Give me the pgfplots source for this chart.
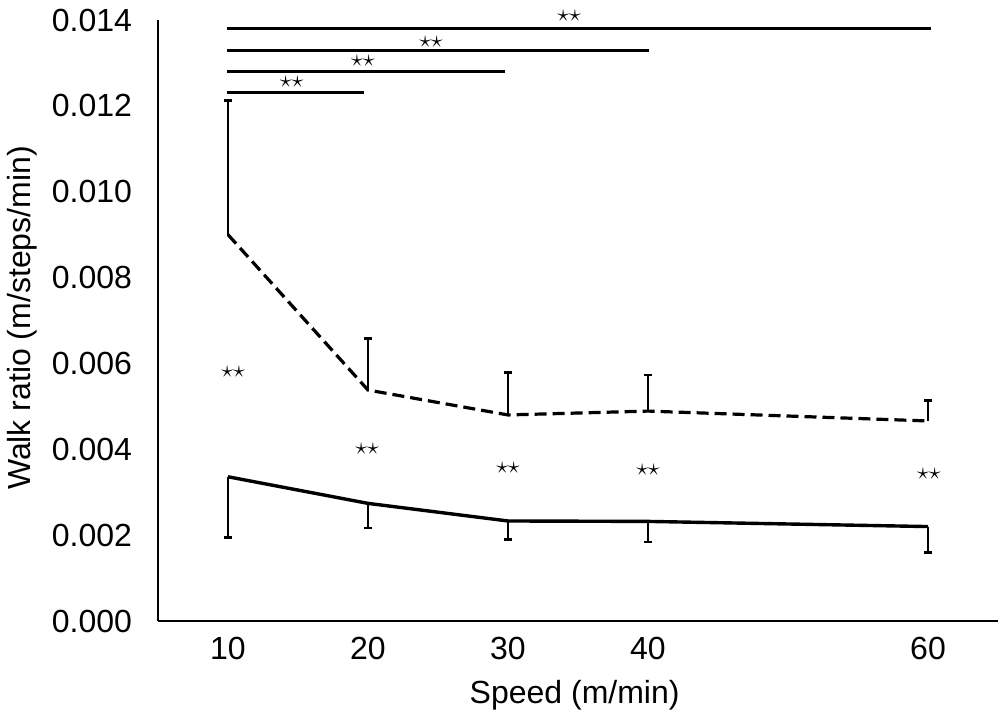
\documentclass[border=0pt]{standalone}
\usepackage{pgfplots}
\pgfplotsset{compat=1.18}
\usepackage{fontspec}
\setmainfont{Liberation Sans}
\begin{document}
\begin{tikzpicture}
\begin{axis}[
  at={(0,0)}, anchor=south west,
  scale only axis, width=420pt, height=300.5pt,
  xmin=5, xmax=65, ymin=0, ymax=0.014,
  axis lines*=left,
  axis line style={line width=1.3pt},
  xtick={10,20,30,40,60},
  ytick={0,0.002,0.004,0.006,0.008,0.010,0.012,0.014},
  yticklabels={0.000,0.002,0.004,0.006,0.008,0.010,0.012,0.014},
  scaled y ticks=false,
  major tick length=0pt,
  /pgf/number format/assume math mode=true,
  tick label style={font=\fontsize{16}{19}\selectfont},
  xticklabel style={yshift=-4.7pt},
  yticklabel style={xshift=-9.5pt},
  xlabel={Speed (m/min)},
  ylabel={Walk ratio (m/steps/min)},
  every axis x label/.style={at={(axis description cs:0.496,-0.123)},anchor=center,font=\fontsize{16}{19}\selectfont},
  every axis y label/.style={at={(axis description cs:-0.162,0.504)},rotate=90,anchor=center,font=\fontsize{16}{19}\selectfont},
  clip=false,
]
% dashed series (upper), positive error bars
\addplot[black, line width=1.6pt, dash pattern=on 6pt off 3pt,
  error bars/.cd, y dir=plus, y explicit, error mark=-,
  error bar style={line width=1.25pt, solid},
  error mark options={line width=1.25pt, mark size=2pt, solid, black, rotate=90}]
  coordinates {
  (10,0.00900) +- (0,0.00313)
  (20,0.00538) +- (0,0.00120)
  (30,0.00480) +- (0,0.00099)
  (40,0.00489) +- (0,0.00084)
  (60,0.00466) +- (0,0.00048)
  };
% solid series (lower), negative error bars
\addplot[black, line width=1.7pt,
  error bars/.cd, y dir=minus, y explicit, error mark=-,
  error bar style={line width=1.25pt, solid},
  error mark options={line width=1.25pt, mark size=2pt, solid, black, rotate=90}]
  coordinates {
  (10,0.00336) +- (0,0.00141)
  (20,0.00274) +- (0,0.00057)
  (30,0.00233) +- (0,0.00043)
  (40,0.00232) +- (0,0.00048)
  (60,0.00220) +- (0,0.00060)
  };
% significance bars
\addplot[black, line width=1.5pt] coordinates {(9.96,0.01380) (60.2,0.01380)};
\addplot[black, line width=1.5pt] coordinates {(9.96,0.01329) (40.1,0.01329)};
\addplot[black, line width=1.5pt] coordinates {(9.96,0.01281) (29.8,0.01281)};
\addplot[black, line width=1.1pt] coordinates {(9.96,0.01231) (19.7,0.01231)};
% star annotations
\begin{scope}[every node/.style={font=\fontsize{13}{15}\selectfont, inner sep=0pt}]
\node at (axis cs:34.36,0.01409) {$\star\star$};
\node at (axis cs:24.5,0.01350) {$\star\star$};
\node at (axis cs:19.64,0.01304) {$\star\star$};
\node at (axis cs:14.54,0.01255) {$\star\star$};
\node at (axis cs:10.36,0.00580) {$\star\star$};
\node at (axis cs:19.93,0.00400) {$\star\star$};
\node at (axis cs:30.0,0.00356) {$\star\star$};
\node at (axis cs:40.0,0.00353) {$\star\star$};
\node at (axis cs:60.07,0.00342) {$\star\star$};
\end{scope}
\end{axis}
\pgfresetboundingbox
\path (-79pt,-46pt) rectangle (421pt,310.5pt);
\end{tikzpicture}
\end{document}
